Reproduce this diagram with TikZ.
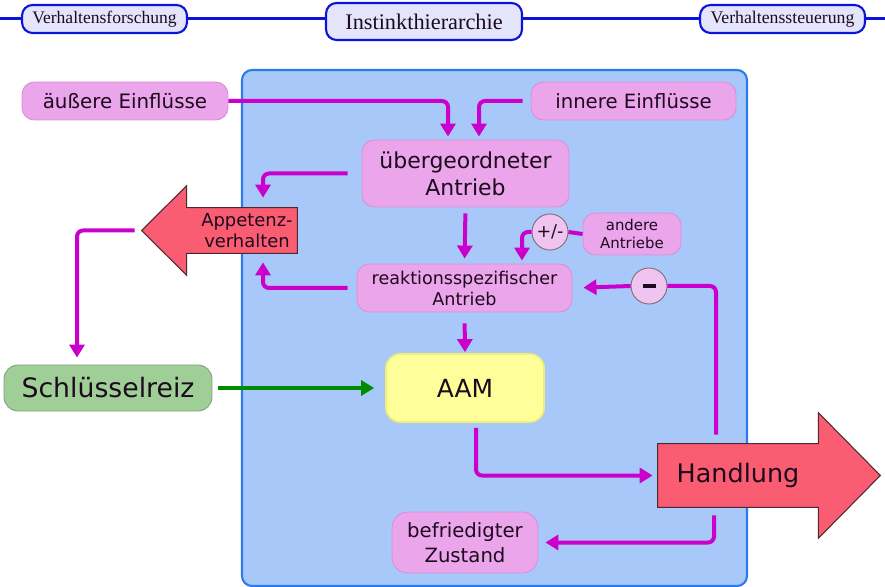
\documentclass[tikz,border=0pt]{standalone}
\usepackage{fontspec}
\setmainfont{DejaVu Sans}
\newfontfamily\barfont{Liberation Serif}
\usetikzlibrary{positioning, calc, arrows.meta}
\definecolor{ihBar}{HTML}{0A14DC}
\definecolor{ihBarFill}{HTML}{E4E4FA}
\definecolor{ihPanel}{HTML}{A8C8FA}
\definecolor{ihPanelLine}{HTML}{2A7AF0}
\definecolor{ihPink}{HTML}{EBA5EB}
\definecolor{ihPinkLine}{HTML}{D890D8}
\definecolor{ihRing}{HTML}{F0C4F0}
\definecolor{ihFlow}{HTML}{CC00CC}
\definecolor{ihRed}{HTML}{FA5C72}
\definecolor{ihRedLine}{HTML}{4A2A30}
\definecolor{ihGreen}{HTML}{9FCF97}
\definecolor{ihGreenLine}{HTML}{7F9F7A}
\definecolor{ihArrowGreen}{HTML}{008C00}
\definecolor{ihYellow}{HTML}{FFFF99}
\definecolor{ihYellowLine}{HTML}{EEEE77}
\definecolor{ihText}{HTML}{1E0A1E}

\begin{document}
\begin{tikzpicture}[x=0.02cm, y=-0.02cm,
    barbox/.style={draw=ihBar, line width=1.2pt, fill=ihBarFill, rounded corners=6pt,
        inner sep=0pt, text=ihText},
    pinkbox/.style={draw=ihPinkLine, line width=0.5pt, fill=ihPink, rounded corners=7pt,
        inner sep=0pt, align=center, text=ihText},
    ring/.style={circle, draw=ihRedLine!70, line width=0.5pt, fill=ihRing,
        minimum size=0.72cm, inner sep=0pt, text=ihText},
    flow/.style={draw=ihFlow, line width=0.08cm, rounded corners=0.12cm,
        -{Triangle[length=0.26cm, width=0.3cm]}},
    flowline/.style={draw=ihFlow, line width=0.08cm}]
    \useasboundingbox (0,0) rectangle (885,587);

    % Header bar
    \draw[ihBar, line width=0.06cm] (0,19) -- (885,19);
    \node[barbox, minimum width=3.3cm, minimum height=0.56cm, font=\barfont\fontsize{10}{12}\selectfont]
        (forschung) at (104.5,19) {Verhaltensforschung};
    \node[barbox, minimum width=3.92cm, minimum height=0.74cm, font=\barfont\fontsize{12.7}{15}\selectfont]
        (hierarchie) at (424,21.5) {Instinkthierarchie};
    \node[barbox, minimum width=3.3cm, minimum height=0.56cm, font=\barfont\fontsize{10.1}{12}\selectfont]
        (steuerung) at (782.5,19) {Verhaltenssteuerung};

    % Blue panel
    \draw[draw=ihPanelLine, line width=1.2pt, fill=ihPanel, rounded corners=0.2cm]
        (242,70) rectangle (747,586);

    % Drive boxes
    \node[pinkbox, minimum width=4.12cm, minimum height=0.76cm, font=\fontsize{11.3}{13}\selectfont]
        (aeussere) at (125,101) {äußere Einflüsse};
    \node[pinkbox, minimum width=4.1cm, minimum height=0.76cm, font=\fontsize{11.2}{13}\selectfont]
        (innere) at (633.5,101) {innere Einflüsse};
    \node[pinkbox, minimum width=4.14cm, minimum height=1.34cm, font=\fontsize{12.5}{15.5}\selectfont]
        (ueber) at (465.5,173.5) {übergeordneter\\Antrieb};
    \node[pinkbox, minimum width=4.3cm, minimum height=0.96cm, font=\fontsize{10}{12}\selectfont]
        (reakt) at (464.5,288) {reaktionsspezifischer\\Antrieb};
    \node[pinkbox, minimum width=1.96cm, minimum height=0.84cm, font=\fontsize{8.5}{10.4}\selectfont]
        (andere) at (632,234) {andere\\Antriebe};
    \node[pinkbox, rounded corners=9pt, minimum width=2.92cm, minimum height=1.22cm,
        font=\fontsize{11.2}{14.2}\selectfont]
        (befriedigt) at (465,542.5) {befriedigter\\Zustand};

    % Signs
    \node[ring, font=\fontsize{10}{12}\selectfont] (plusminus) at (550,232) {+/-};
    \node[ring] (minus) at (649,286) {\rule[-0.04cm]{0.26cm}{0.08cm}};

    % Stimulus and releasing mechanism
    \node[draw=ihGreenLine, line width=0.5pt, fill=ihGreen, rounded corners=8pt, inner sep=0pt,
        minimum width=4.16cm, minimum height=0.92cm, text=ihText, font=\fontsize{15.2}{18}\selectfont]
        (schluessel) at (108,388) {Schlüsselreiz};
    \node[draw=ihYellowLine, line width=1pt, fill=ihYellow, rounded corners=8pt, inner sep=0pt,
        minimum width=3.16cm, minimum height=1.36cm, text=ihText, font=\fontsize{14.2}{17}\selectfont]
        (aam) at (465,388) {AAM};

    % Block arrows
    \node[minimum width=2.2cm, minimum height=0.9cm, inner sep=0pt] (appetenz) at (242,230.5) {};
    \coordinate (apptip) at ($(appetenz.west)+(-45,0)$);
    \filldraw[fill=ihRed, draw=ihRedLine, line width=0.6pt]
        (appetenz.north east) -- (appetenz.north west) -- ++(0,-22) -- (apptip)
        -- ($(appetenz.south west)+(0,22)$) -- (appetenz.south west) -- (appetenz.south east) -- cycle;
    \node[align=center, text=ihText, font=\fontsize{10.2}{11.7}\selectfont, xshift=0.1cm]
        at (appetenz) {Appetenz-\\verhalten};

    \node[minimum width=3.2cm, minimum height=1.26cm, inner sep=0pt] (handlung) at (738,475.5) {};
    \filldraw[fill=ihRed, draw=ihRedLine, line width=0.6pt]
        (handlung.south west) -- (handlung.north west) -- (handlung.north east) -- ++(0,-31)
        -- ($(handlung.east)+(62,0)$) -- ($(handlung.south east)+(0,31)$) -- (handlung.south east) -- cycle;
    \node[text=ihText, font=\fontsize{14.5}{17}\selectfont] at (handlung) {Handlung};

    % Connectors
    \draw[flow] (aeussere.east) -| ($(ueber.north)+(-17.5,-3)$);
    \draw[flow, shorten <=0.16cm] (innere.west) -| ($(ueber.north)+(13.5,-3)$);
    \draw[flow, shorten <=0.28cm] (ueber.west) -| ($(appetenz.north)+(21,-10)$);
    \draw[flow, shorten <=0.18cm] (reakt.west) -| ($(appetenz.south)+(21,9)$);
    \draw[flow, shorten <=0.12cm, shorten >=0.1cm] (ueber.south) -- (reakt.north);
    \draw[flowline] (andere.west) -- (plusminus.east);
    \draw[flow] (plusminus.west) -| ($(reakt.north)+(57.5,-3)$);
    \draw[flow, shorten <=0.22cm, shorten >=0.02cm] (reakt.south) -- (aam.north);
    \draw[flow, shorten <=0.14cm] (apptip) -| ($(schluessel.north)+(-31,-7)$);
    \draw[draw=ihArrowGreen, line width=0.08cm, -{Triangle[length=0.26cm, width=0.3cm]},
        shorten <=0.12cm, shorten >=0.22cm] (schluessel.east) -- (aam.west);
    \draw[flow] ($(aam.south)+(11,5)$) |- ($(handlung.west)+(-5,0)$);
    \draw[flowline, rounded corners=0.12cm] ($(handlung.north)+(-22,-9)$) |- (minus.east);
    \draw[flow, shorten >=0.22cm] (minus.west) -- (reakt.east);
    \draw[flow, shorten >=0.14cm] ($(handlung.south)+(-24,8)$) |- (befriedigt.east);
\end{tikzpicture}
\end{document}
